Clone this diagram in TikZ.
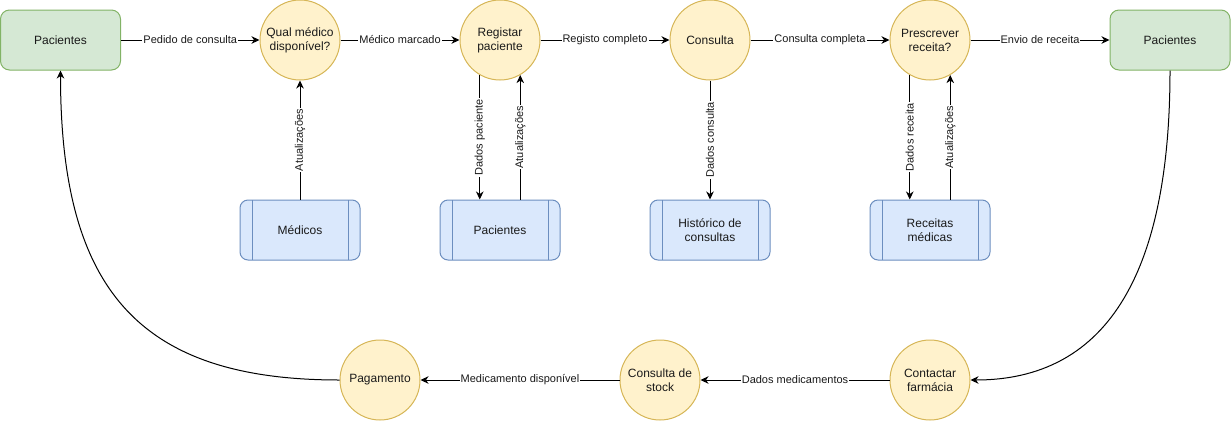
\documentclass[tikz,border=0pt]{standalone}
\usepackage{fontspec}
\setmainfont{Liberation Sans}
\usetikzlibrary{arrows.meta}
\definecolor{gfill}{HTML}{D5E8D4}
\definecolor{gline}{HTML}{82B366}
\definecolor{yfill}{HTML}{FFF2CC}
\definecolor{yline}{HTML}{D6B656}
\definecolor{bfill}{HTML}{DAE8FC}
\definecolor{bline}{HTML}{6C8EBF}
\definecolor{txt}{HTML}{1A1A1A}
\tikzset{
  ext/.style={draw=gline, fill=gfill, rounded corners=9pt, minimum width=120pt,
    minimum height=60pt, line width=1pt, text=txt, font=\fontsize{12}{14}\selectfont},
  proc/.style={circle, draw=yline, fill=yfill, minimum size=80pt, inner sep=0pt,
    align=center, line width=1pt, text=txt, font=\fontsize{12}{14}\selectfont},
  store/.style={draw=bline, fill=bfill, rounded corners=8pt, minimum width=120pt,
    minimum height=60pt, align=center, line width=1pt, text=txt,
    font=\fontsize{12}{14}\selectfont,
    path picture={
      \draw[bline, line width=1pt] ([xshift=12pt]path picture bounding box.north west) -- ([xshift=12pt]path picture bounding box.south west);
      \draw[bline, line width=1pt] ([xshift=-12pt]path picture bounding box.north east) -- ([xshift=-12pt]path picture bounding box.south east);
    }},
  flow/.style={line width=1pt, -{Stealth[length=8pt, width=7.5pt, inset=2.5pt]}},
  lbl/.style={fill=white, inner sep=1pt, text=txt, font=\fontsize{11}{13}\selectfont},
}
\begin{document}
\begin{tikzpicture}[x=1pt, y=-1pt]
\useasboundingbox (0,0) rectangle (1231,421);
% top row
\node[ext] (pl) at (60.5,40) {Pacientes};
\node[proc] (q) at (300,40) {Qual médico\\disponível?};
\node[proc] (reg) at (500,40) {Registar\\paciente};
\node[proc] (cons) at (710,40) {Consulta};
\node[proc] (presc) at (930,40) {Prescrever\\receita?};
\node[ext] (pr) at (1170,40) {Pacientes};
% stores
\node[store] (med) at (300,230) {Médicos};
\node[store] (pacs) at (500,230) {Pacientes};
\node[store] (hist) at (710,230) {Histórico de\\consultas};
\node[store] (rec) at (930,230) {Receitas\\médicas};
% bottom row
\node[proc] (pag) at (380,380) {Pagamento};
\node[proc] (stock) at (660,380) {Consulta de\\stock};
\node[proc] (farm) at (930,380) {Contactar\\farmácia};
% top horizontal flows
\draw[flow] (pl) -- node[lbl]{Pedido de consulta} (q);
\draw[flow] (q) -- node[lbl]{Médico marcado} (reg);
\draw[flow] (reg) -- node[lbl]{Registo completo} (cons);
\draw[flow] (cons) -- node[lbl]{Consulta completa} (presc);
\draw[flow] (presc) -- node[lbl]{Envio de receita} (pr);
% vertical flows
\draw[flow] (med) -- node[lbl, rotate=90]{Atualizações} (q);
\draw[flow] (reg.240) -- node[lbl, rotate=90]{Dados paciente} (reg.240 |- pacs.north);
\draw[flow] (reg.300 |- pacs.north) -- node[lbl, rotate=90]{Atualizações} (reg.300);
\draw[flow] (cons) -- node[lbl, rotate=90]{Dados consulta} (hist);
\draw[flow] (presc.240) -- node[lbl, rotate=90]{Dados receita} (presc.240 |- rec.north);
\draw[flow] (presc.300 |- rec.north) -- node[lbl, rotate=90]{Atualizações} (presc.300);
% bottom flows
\draw[flow] (farm) -- node[lbl]{Dados medicamentos} (stock);
\draw[flow] (stock) -- node[lbl]{Medicamento disponível} (pag);
% curves
\draw[flow] (pr.south) .. controls +(0,180) and +(150,0) .. (farm.east);
\draw[flow] (pag.west) .. controls +(-200,0) and +(0,220) .. (pl.south);
\end{tikzpicture}
\end{document}
